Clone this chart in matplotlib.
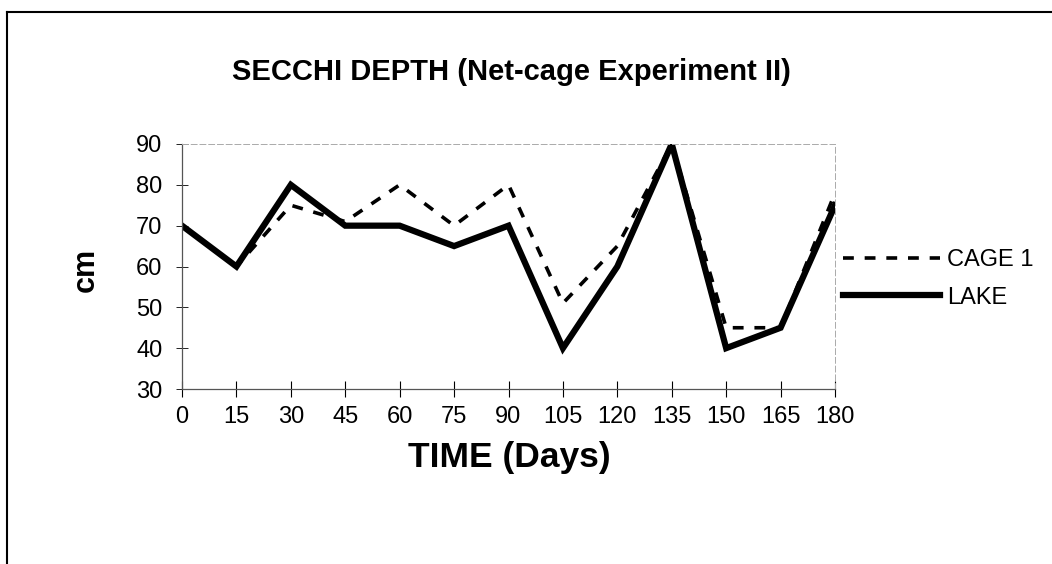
import matplotlib.pyplot as plt
from matplotlib.lines import Line2D

plt.rcParams['font.family'] = ['Liberation Sans', 'DejaVu Sans']

days = [0, 15, 30, 45, 60, 75, 90, 105, 120, 135, 150, 165, 180]
cage1 = [70, 60, 75, 71, 80, 70, 80, 51, 65, 90, 45, 45, 78]
lake = [70, 60, 80, 70, 70, 65, 70, 40, 60, 90, 40, 45, 75]
yticks = [30, 40, 50, 60, 70, 80, 90]

fig = plt.figure(figsize=(10.52, 5.64), dpi=100)
ax = fig.add_axes([182 / 1052, 1 - 389 / 564, (835 - 182) / 1052, (389 - 144) / 564])

dash = (0, (3, 3))
ax.plot(days, cage1, color='black', linestyle=dash, linewidth=2.6, label='CAGE 1')
ax.plot(days, lake, color='black', linestyle='-', linewidth=4.5, label='LAKE',
        solid_joinstyle='miter')

ax.set_xlim(0, 180)
ax.set_ylim(30, 90)
ax.set_xticks(days)
ax.set_yticks(yticks)
ax.tick_params(axis='x', direction='inout', length=12, width=0.8, labelsize=17, pad=6)
ax.tick_params(axis='y', direction='inout', length=8, width=0.6, labelsize=17, pad=10)

for side in ['left', 'bottom']:
    ax.spines[side].set_color('#555555')
    ax.spines[side].set_linewidth(0.9)
for side in ['top', 'right']:
    ax.spines[side].set_color('#aaaaaa')
    ax.spines[side].set_linewidth(0.7)
    ax.spines[side].set_linestyle((0, (6, 3)))

fig.text(511 / 1052, 1 - 72 / 564, 'SECCHI DEPTH (Net-cage Experiment II)',
         ha='center', va='center', fontsize=21, fontweight='bold')
fig.text(509 / 1052, 1 - 458 / 564, 'TIME (Days)',
         ha='center', va='center', fontsize=25.5, fontweight='bold')
fig.text(86 / 1052, 1 - 270 / 564, 'cm', rotation=90,
         ha='center', va='center', fontsize=22, fontweight='bold')

handles = [
    Line2D([], [], color='black', linestyle=dash, linewidth=2.6),
    Line2D([], [], color='black', linestyle='-', linewidth=4.5),
]
fig.legend(handles, ['CAGE 1', 'LAKE'], loc='center left',
           bbox_to_anchor=(843 / 1052, 1 - 279 / 564), frameon=False,
           fontsize=17, handlelength=4.1, handletextpad=0.3,
           labelspacing=0.65, borderpad=0, borderaxespad=0)

# outer frame (top and left edges only)
fig.add_artist(Line2D([7 / 1052, 7 / 1052], [0, 1 - 12 / 564],
                      transform=fig.transFigure, color='black', linewidth=1.5))
fig.add_artist(Line2D([7 / 1052, 1], [1 - 12 / 564, 1 - 12 / 564],
                      transform=fig.transFigure, color='black', linewidth=1.5))

fig.savefig('out.png', dpi=100)
